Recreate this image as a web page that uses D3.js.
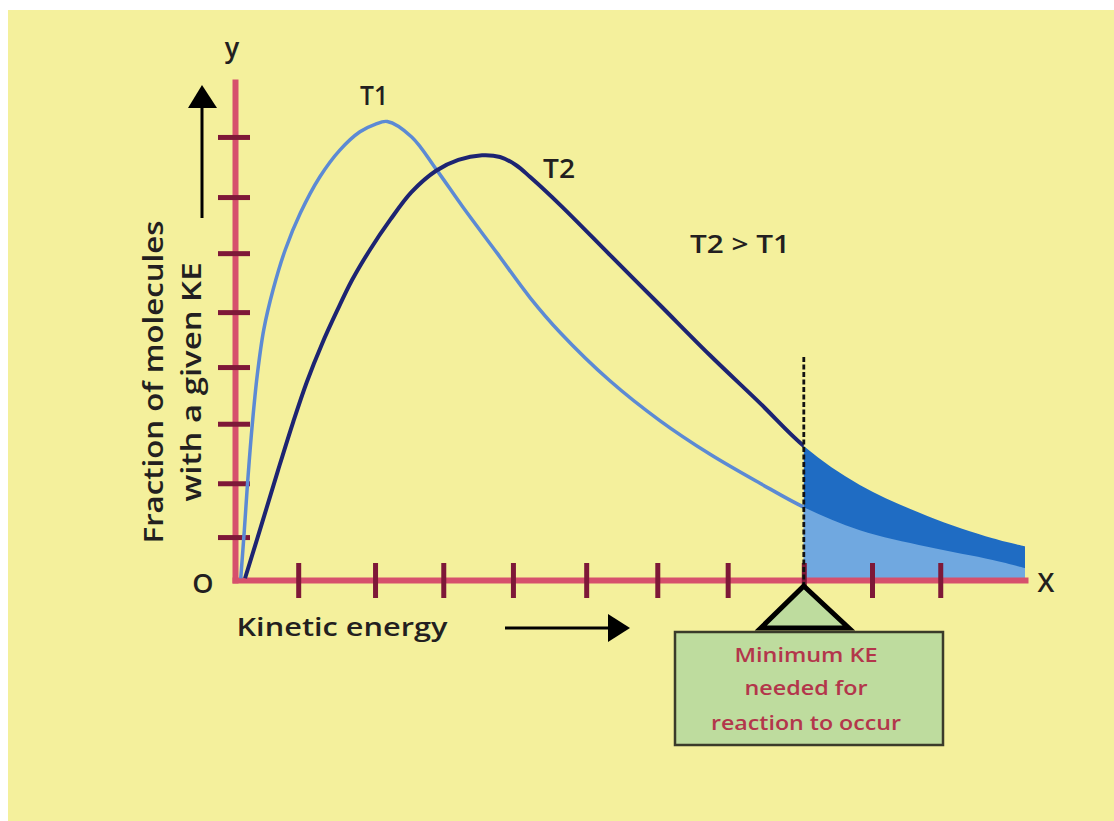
<!DOCTYPE html>
<html>
<head>
<meta charset="utf-8">
<script src="https://cdn.jsdelivr.net/npm/d3@7"></script>
<style>
  body { margin: 0; background: #ffffff; }
  svg { display: block; }
  text { font-family: "Open Sans", "Noto Sans", sans-serif; }
</style>
</head>
<body>
<svg id="chart" width="1114" height="821"></svg>
<script>
// ---------------- data ----------------
const t1Energy   = [0.08, 0.13, 0.18, 0.24, 0.31, 0.40, 0.53, 0.70, 0.91, 1.18, 1.46, 1.74, 1.95, 2.12, 2.46, 2.81, 3.17, 3.65, 4.11, 4.53, 5.22, 5.92, 6.61, 7.31, 7.94, 8.70, 9.64, 10.55, 11.0];
const t1Fraction = [0.03, 0.87, 1.78, 2.71, 3.58, 4.37, 5.07, 5.77, 6.41, 7.04, 7.51, 7.83, 7.96, 8.01, 7.74, 7.16, 6.52, 5.71, 4.93, 4.32, 3.48, 2.78, 2.20, 1.69, 1.26, 0.87, 0.58, 0.35, 0.21];

const t2Energy   = [0.14, 0.38, 0.60, 0.81, 1.00, 1.21, 1.42, 1.63, 1.88, 2.16, 2.46, 2.80, 3.11, 3.44, 3.69, 3.91, 4.11, 4.53, 5.22, 5.92, 6.61, 7.31, 7.94, 8.70, 9.64, 10.55, 11.0];
const t2Fraction = [0.03, 1.01, 1.92, 2.76, 3.46, 4.12, 4.70, 5.24, 5.77, 6.29, 6.78, 7.15, 7.34, 7.42, 7.39, 7.25, 7.04, 6.55, 5.68, 4.80, 3.93, 3.09, 2.32, 1.66, 1.12, 0.73, 0.59];

const xTickValues = [0.88, 1.95, 2.90, 3.87, 4.89, 5.88, 6.86, 7.92, 8.87, 9.82];
const yTickValues = [0.75, 1.69, 2.73, 3.72, 4.68, 5.71, 6.69, 7.74];
const minKE = 7.92;
const seriesNames = ["T1", "T2"];
const boxLines = ["Minimum KE", "needed for", "reaction to occur"];

// ---------------- styles ----------------
const bg = "#F4F09C";
const axisColor = "#D6506C";
const tickColor = "#7E1838";
const t1Color = "#5C8AD4";
const t2Color = "#1D2472";
const darkFill = "#1F6CC3";
const lightFill = "#70A8E0";
const ink = "#231F20";
const boxFill = "#BEDC9E";
const boxText = "#B3364B";

const svg = d3.select("#chart");
svg.append("rect").attr("x", 8).attr("y", 10).attr("width", 1106).attr("height", 811).attr("fill", bg);

const x = d3.scaleLinear().domain([0, 11]).range([235, 1025]);
const y = d3.scaleLinear().domain([0, 8.7]).range([580, 82]);

const t1 = t1Energy.map((e, i) => ({ e, f: t1Fraction[i] }));
const t2 = t2Energy.map((e, i) => ({ e, f: t2Fraction[i] }));

const defs = svg.append("defs");
defs.append("clipPath").attr("id", "tail")
  .append("rect").attr("x", x(minKE)).attr("y", 0).attr("width", x(11) - x(minKE)).attr("height", y(0));
defs.append("clipPath").attr("id", "body")
  .append("rect").attr("x", 0).attr("y", 0).attr("width", x(minKE)).attr("height", 821);

const curve = d3.curveCatmullRom.alpha(0.5);

// ---------------- shaded tail ----------------
const area = d3.area().x(d => x(d.e)).y0(y(0)).y1(d => y(d.f)).curve(curve);
const tail = svg.append("g").attr("clip-path", "url(#tail)");
tail.append("path").datum(t2).attr("d", area).attr("fill", darkFill);
tail.append("path").datum(t1).attr("d", area).attr("fill", lightFill);

// ---------------- axes ----------------
const gx = svg.append("g").attr("transform", `translate(0,${y(0)})`)
  .call(d3.axisBottom(x).tickValues(xTickValues).tickSizeInner(18).tickSizeOuter(0).tickFormat(""));
gx.select(".domain").attr("stroke", axisColor).attr("stroke-width", 6).attr("stroke-linecap", "square");
gx.selectAll(".tick line").attr("y1", -17).attr("y2", 18).attr("stroke", tickColor).attr("stroke-width", 5);

const gy = svg.append("g").attr("transform", `translate(${x(0)},0)`)
  .call(d3.axisLeft(y).tickValues(yTickValues).tickSizeInner(17).tickSizeOuter(0).tickFormat(""));
gy.select(".domain").attr("stroke", axisColor).attr("stroke-width", 6).attr("stroke-linecap", "square");
gy.selectAll(".tick line").attr("x1", 15).attr("x2", -17).attr("stroke", tickColor).attr("stroke-width", 5);

// ---------------- curves ----------------
const line = d3.line().x(d => x(d.e)).y(d => y(d.f)).curve(curve);
const body = svg.append("g").attr("clip-path", "url(#body)");
body.append("path").datum(t1).attr("d", line).attr("fill", "none").attr("stroke", t1Color).attr("stroke-width", 3.5);
body.append("path").datum(t2).attr("d", line).attr("fill", "none").attr("stroke", t2Color).attr("stroke-width", 4);

// ---------------- threshold marker ----------------
svg.append("line").attr("x1", x(minKE)).attr("x2", x(minKE)).attr("y1", 357).attr("y2", 584)
  .attr("stroke", "#111").attr("stroke-width", 2.8).attr("stroke-dasharray", "5,2.5");

svg.append("rect").attr("x", 675).attr("y", 632).attr("width", 268).attr("height", 113)
  .attr("fill", boxFill).attr("stroke", "#3A3B2A").attr("stroke-width", 2.5);
svg.append("path")
  .attr("d", `M${x(minKE)},586 L${x(minKE) + 45},628 L${x(minKE) - 43},628 Z`)
  .attr("fill", boxFill).attr("stroke", "#000").attr("stroke-width", 5).attr("stroke-linejoin", "miter");

const boxW = [143, 123, 190];
const boxY = [662, 695, 730];
boxLines.forEach((s, i) => {
  svg.append("text").attr("x", 806).attr("y", boxY[i]).attr("text-anchor", "middle")
    .attr("font-size", 20).attr("font-weight", 600).attr("fill", boxText)
    .attr("textLength", boxW[i]).attr("lengthAdjust", "spacingAndGlyphs").text(s);
});

// ---------------- labels ----------------
function label(txt, cx, by, size, len) {
  const t = svg.append("text").attr("x", cx).attr("y", by).attr("text-anchor", "middle")
    .attr("font-size", size).attr("font-weight", 600).attr("fill", ink).text(txt);
  if (len) t.attr("textLength", len).attr("lengthAdjust", "spacingAndGlyphs");
  return t;
}
label("y", 232, 57, 27);
label(seriesNames[0], 374, 105, 27, 28);
label(seriesNames[1], 559, 178, 27, 32);
label(`${seriesNames[1]} > ${seriesNames[0]}`, 740, 253, 26, 100);
label("O", 203, 593, 27);
label("X", 1046, 592, 27);
label("Kinetic energy", 342, 636, 25, 211);

svg.append("text").attr("transform", "translate(163,382) rotate(-90)").attr("text-anchor", "middle")
  .attr("font-size", 27).attr("font-weight", 600).attr("fill", ink)
  .attr("textLength", 323).attr("lengthAdjust", "spacingAndGlyphs")
  .text("Fraction of molecules");
svg.append("text").attr("transform", "translate(201,382) rotate(-90)").attr("text-anchor", "middle")
  .attr("font-size", 27).attr("font-weight", 600).attr("fill", ink)
  .attr("textLength", 239).attr("lengthAdjust", "spacingAndGlyphs")
  .text("with a given KE");

// arrows
svg.append("line").attr("x1", 505).attr("x2", 612).attr("y1", 628).attr("y2", 628).attr("stroke", "#000").attr("stroke-width", 3);
svg.append("path").attr("d", "M608,614 L630,628 L608,642 Z").attr("fill", "#000");
svg.append("line").attr("x1", 202).attr("x2", 202).attr("y1", 218).attr("y2", 104).attr("stroke", "#000").attr("stroke-width", 3);
svg.append("path").attr("d", "M188,108 L202,85 L217,108 Z").attr("fill", "#000");
</script>
</body>
</html>
